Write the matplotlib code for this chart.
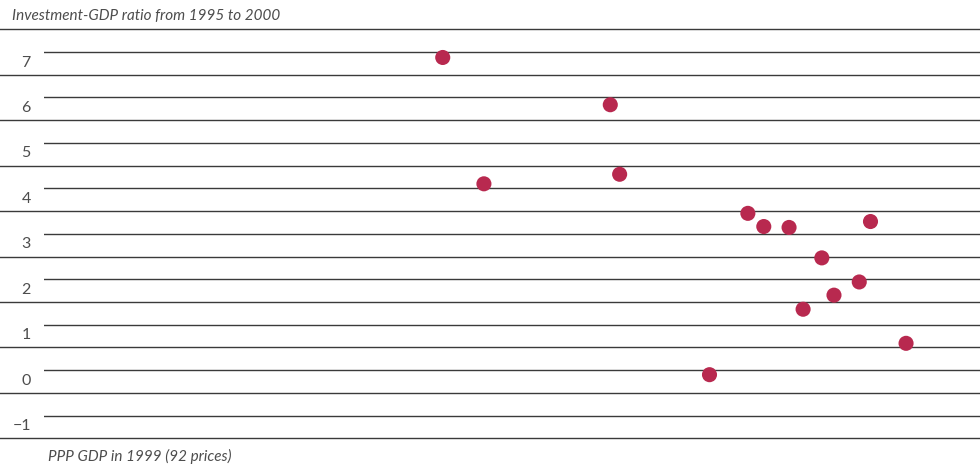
import numpy as np
import matplotlib
matplotlib.use("Agg")
import matplotlib.pyplot as plt
import matplotlib.transforms as mtransforms

plt.rcParams['font.family'] = ['Lato', 'DejaVu Sans']

# PPP GDP in 1999 (index, no axis scale shown) and investment-GDP ratio change
gdp = [42.6, 47.0, 60.5, 61.5, 71.1, 75.2, 76.9, 79.6, 81.1, 83.1, 84.4, 87.1, 88.3, 92.1]
inv_ratio = [6.88, 4.10, 5.84, 4.31, -0.10, 3.45, 3.16, 3.14, 1.34, 2.47, 1.65, 1.94, 3.27, 0.59]

y_ticks = [7, 6, 5, 4, 3, 2, 1, 0, -1]
y_labels = ['7', '6', '5', '4', '3', '2', '1', '0', '\u22121']
title = 'Investment-GDP ratio from 1995 to 2000'
xlabel = 'PPP GDP in 1999 (92 prices)'

W, H = 980, 470
fig = plt.figure(figsize=(W / 100, H / 100), dpi=100)
ax = fig.add_axes([44 / W, 31.7 / H, 936 / W, 409 / H])
ax.set_xlim(0, 100)
ax.set_ylim(-1.5, 7.5)

line_col = '#3a3a3a'
text_col = '#4d4d4d'

# integer lines start at the axes edge, half lines run the full width
for v in y_ticks:
    ax.axhline(v, color=line_col, lw=1.0, zorder=1)
for v in np.arange(-1.5, 8.0, 1.0):
    ax.axhline(v, xmin=-44 / 936, xmax=1, color=line_col, lw=1.0,
               zorder=1, clip_on=False)

ax.scatter(gdp, inv_ratio, s=118, color='#b8294f', edgecolors='none', zorder=3)

ax.set_xticks([])
ax.set_yticks(y_ticks)
ax.set_yticklabels(y_labels, fontsize=11.5, color=text_col)
ax.tick_params(axis='y', length=0, pad=9.5)
shift = mtransforms.ScaledTranslation(0, -9 / 100, fig.dpi_scale_trans)
for lab in ax.get_yticklabels():
    lab.set_transform(lab.get_transform() + shift)
for s in ax.spines.values():
    s.set_visible(False)

fig.text(12 / W, 1 - 16 / H, title, ha='left', va='center', fontsize=11,
         style='italic', color=text_col)
fig.text(48 / W, 1 - 456 / H, xlabel, ha='left', va='center', fontsize=11,
         style='italic', color=text_col)

fig.savefig('out.png', dpi=100)
